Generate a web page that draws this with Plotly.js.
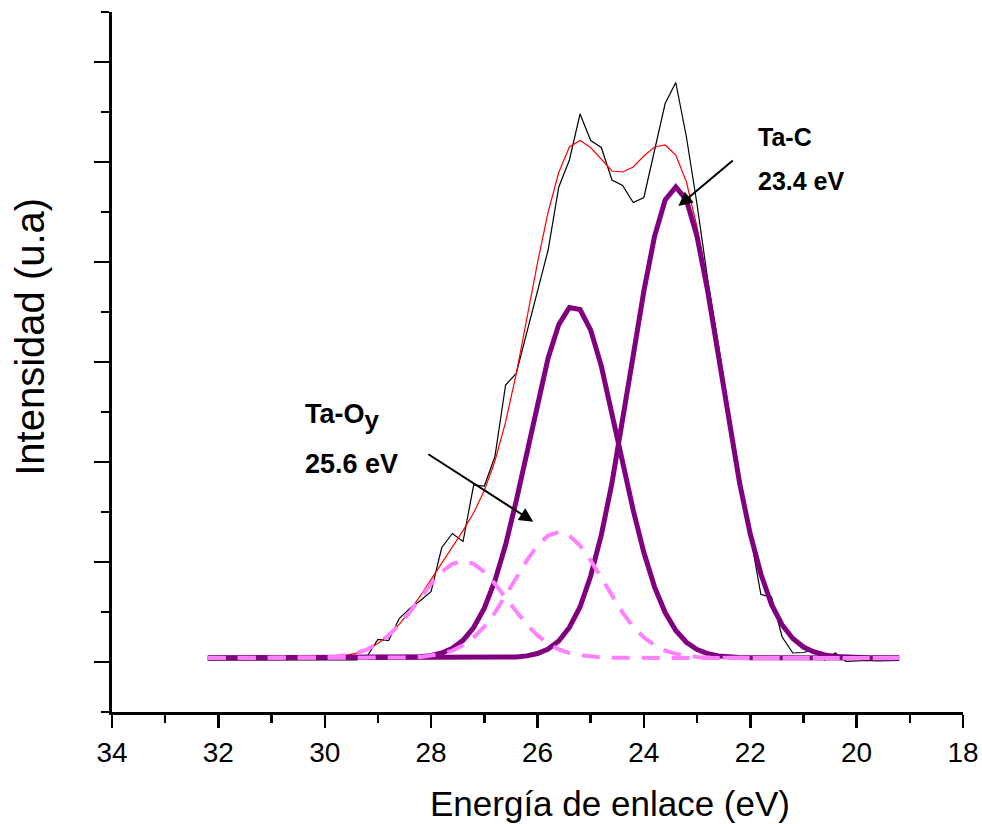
<!DOCTYPE html>
<html>
<head>
<meta charset="utf-8">
<script src="https://cdn.plot.ly/plotly-3.0.1.min.js"></script>
<style>
  html, body { margin: 0; padding: 0; background: #ffffff; }
  #chart { width: 982px; height: 824px; }
</style>
</head>
<body>
<div id="chart"></div>
<script>
// Binding energy grid (eV), 0.2 eV steps
const energy = [32.2, 32.0, 31.8, 31.6, 31.4, 31.2, 31.0, 30.8, 30.6, 30.4, 30.2, 30.0,
  29.8, 29.6, 29.4, 29.2, 29.0, 28.8, 28.6, 28.4, 28.2, 28.0,
  27.8, 27.6, 27.4, 27.2, 27.0, 26.8, 26.6, 26.4, 26.2, 26.0,
  25.8, 25.6, 25.4, 25.2, 25.0, 24.8, 24.6, 24.4, 24.2, 24.0,
  23.8, 23.6, 23.4, 23.2, 23.0, 22.8, 22.6, 22.4, 22.2, 22.0,
  21.8, 21.6, 21.4, 21.2, 21.0, 20.8, 20.6, 20.4, 20.2, 20.0,
  19.8, 19.6, 19.4, 19.2];

// Measured spectrum
const measured = [1040, 1040, 1040, 1040, 1040, 1040, 1040, 1040, 1040, 1040, 1040, 1040,
  1040, 1040, 1040, 1120, 1450, 1430, 1870, 2070, 2230, 2410,
  3290, 3570, 3410, 4540, 4520, 5110, 6540, 6770, 7580, 8440,
  9240, 10500, 11040, 11960, 11430, 11290, 10640, 10530, 10190, 10290,
  11240, 12170, 12590, 11500, 10150, 8650, 7350, 6000, 4750, 3550,
  2350, 2300, 1500, 1180, 1190, 1240, 1040, 1180, 1010, 1020,
  1030, 1020, 1030, 1030];

// Envelope of the fit
const envelope = [1080, 1080, 1080, 1080, 1080, 1080, 1080, 1080, 1081, 1082, 1086, 1093,
  1107, 1133, 1179, 1254, 1371, 1536, 1753, 2022, 2329, 2656,
  2984, 3304, 3627, 3984, 4429, 5021, 5799, 6764, 7859, 8984,
  10000, 10790, 11300, 11430, 11290, 11050, 10820, 10800, 10900, 11120,
  11300, 11340, 11140, 10600, 9700, 8520, 7180, 5820, 4590, 3560,
  2760, 2150, 1740, 1470, 1300, 1200, 1140, 1110, 1094, 1087,
  1083, 1082, 1081, 1080];

// Ta-C component (23.4 eV)
const peakTaC = [1080, 1080, 1080, 1080, 1080, 1080, 1080, 1080, 1080, 1080, 1080, 1080,
  1080, 1080, 1080, 1080, 1080, 1080, 1080, 1080, 1080, 1080,
  1080, 1080, 1080, 1080, 1081, 1083, 1088, 1100, 1122, 1170,
  1260, 1420, 1690, 2100, 2720, 3540, 4580, 5800, 7130, 8420,
  9510, 10240, 10500, 10240, 9510, 8420, 7130, 5800, 4580, 3560,
  2760, 2150, 1740, 1470, 1300, 1200, 1140, 1110, 1094, 1087,
  1083, 1082, 1081, 1080];

// Main Ta-O component (~25.3 eV)
const peakTaO = [1080, 1080, 1080, 1080, 1080, 1080, 1080, 1080, 1080, 1080, 1080, 1080,
  1080, 1080, 1080, 1080, 1081, 1082, 1084, 1090, 1103, 1129,
  1180, 1273, 1433, 1690, 2078, 2626, 3345, 4221, 5199, 6192,
  7082, 7748, 8089, 8050, 7638, 6918, 5997, 4999, 4035, 3188,
  2503, 1989, 1629, 1394, 1250, 1167, 1122, 1099, 1088, 1083,
  1081, 1080, 1080, 1080, 1080, 1080, 1080, 1080, 1080, 1080,
  1080, 1080, 1080, 1080];

// Ta-Oy component (25.6 eV), dashed
const peakTaOy = [1080, 1080, 1080, 1080, 1080, 1080, 1080, 1080, 1080, 1080, 1080, 1080,
  1080, 1080, 1080, 1080, 1081, 1082, 1084, 1090, 1101, 1123,
  1162, 1228, 1334, 1491, 1708, 1988, 2321, 2681, 3033, 3330,
  3529, 3600, 3529, 3330, 3033, 2681, 2321, 1988, 1708, 1491,
  1334, 1228, 1162, 1123, 1101, 1090, 1084, 1082, 1081, 1080,
  1080, 1080, 1080, 1080, 1080, 1080, 1080, 1080, 1080, 1080,
  1080, 1080, 1080, 1080];

// High-energy component (~27.4 eV), dashed
const peakHigh = [1080, 1080, 1080, 1080, 1080, 1080, 1080, 1080, 1081, 1082, 1086, 1093,
  1107, 1133, 1179, 1254, 1369, 1532, 1745, 2002, 2285, 2564,
  2802, 2963, 3020, 2963, 2802, 2564, 2285, 2002, 1745, 1532,
  1369, 1254, 1179, 1133, 1107, 1093, 1086, 1082, 1081, 1080,
  1080, 1080, 1080, 1080, 1080, 1080, 1080, 1080, 1080, 1080,
  1080, 1080, 1080, 1080, 1080, 1080, 1080, 1080, 1080, 1080,
  1080, 1080, 1080, 1080];

// Axis ticks
const xTickValues = [34, 32, 30, 28, 26, 24, 22, 20, 18];
const xTickLabels = ['34', '32', '30', '28', '26', '24', '22', '20', '18'];

const PURPLE = '#800080';
const PINK = '#ff80ff';
const FONT = 'Arial, "Liberation Sans", sans-serif';

const traces = [
  { x: energy, y: measured, mode: 'lines', line: { color: '#000000', width: 1.2 } },
  { x: energy, y: envelope, mode: 'lines', line: { color: '#ff0000', width: 1.2 } },
  { x: energy, y: peakTaO, mode: 'lines', line: { color: PURPLE, width: 5 } },
  { x: energy, y: peakTaC, mode: 'lines', line: { color: PURPLE, width: 5 } },
  { x: energy, y: peakHigh, mode: 'lines', line: { color: PINK, width: 4, dash: '18px,12px' } },
  { x: energy, y: peakTaOy, mode: 'lines', line: { color: PINK, width: 4, dash: '18px,12px' } }
];

const labelFont = { family: FONT, size: 25, color: '#000000', weight: 'bold' };
const labelFontLarge = { family: FONT, size: 27, color: '#000000', weight: 'bold' };

const layout = {
  width: 982,
  height: 824,
  margin: { l: 112, r: 19, t: 12, b: 112 },
  paper_bgcolor: '#ffffff',
  plot_bgcolor: '#ffffff',
  showlegend: false,
  font: { family: FONT, color: '#000000' },
  xaxis: {
    range: [34, 18],
    tickmode: 'array',
    tickvals: xTickValues,
    ticktext: xTickLabels,
    ticks: 'outside',
    ticklen: 13,
    tickwidth: 2.5,
    tickcolor: '#000000',
    tickfont: { family: FONT, size: 28, color: '#000000' },
    ticklabelstandoff: 0,
    showline: true,
    linewidth: 3,
    linecolor: '#000000',
    showgrid: false,
    zeroline: false,
    minor: { ticks: 'outside', ticklen: 8, tickwidth: 2.5, tickcolor: '#000000', dtick: 1, tick0: 0, showgrid: false }
  },
  yaxis: {
    range: [0, 14000],
    tickmode: 'linear',
    tick0: 1000,
    dtick: 2000,
    ticks: 'outside',
    ticklen: 15,
    tickwidth: 2.5,
    tickcolor: '#000000',
    showticklabels: false,
    showline: true,
    linewidth: 3,
    linecolor: '#000000',
    showgrid: false,
    zeroline: false,
    minor: { ticks: 'outside', ticklen: 8, tickwidth: 2.5, tickcolor: '#000000', dtick: 1000, tick0: 0, showgrid: false }
  },
  annotations: [
    // axis titles
    { text: 'Energía de enlace (eV)', xref: 'paper', yref: 'paper', x: 0.585, y: 0, yshift: -91,
      xanchor: 'center', yanchor: 'middle', showarrow: false, font: { family: FONT, size: 35, color: '#000000' } },
    { text: 'Intensidad (u.a)', xref: 'paper', yref: 'paper', x: 0, xshift: -82, y: 0.536,
      xanchor: 'center', yanchor: 'middle', textangle: -90, showarrow: false, font: { family: FONT, size: 40, color: '#000000' } },
    // peak labels
    { text: 'Ta-C', x: 21.9, y: 11500, xanchor: 'left', yanchor: 'middle', showarrow: false, font: labelFont },
    { text: '23.4 eV', x: 21.9, y: 10620, xanchor: 'left', yanchor: 'middle', showarrow: false, font: labelFont },
    { text: 'Ta-O<sub><span style="font-size:26px">y</span></sub>', x: 30.4, y: 5900, xanchor: 'left', yanchor: 'middle', showarrow: false, font: labelFontLarge },
    { text: '25.6 eV', x: 30.4, y: 4960, xanchor: 'left', yanchor: 'middle', showarrow: false, font: labelFontLarge },
    // arrows
    { text: '', x: 23.35, y: 10120, ax: 22.30, ay: 11054, axref: 'x', ayref: 'y',
      showarrow: true, arrowhead: 2, arrowsize: 1.4, arrowwidth: 2, arrowcolor: '#000000', standoff: 0 },
    { text: '', x: 26.08, y: 3806, ax: 28.08, ay: 5174, axref: 'x', ayref: 'y',
      showarrow: true, arrowhead: 2, arrowsize: 1.4, arrowwidth: 2, arrowcolor: '#000000', standoff: 0 }
  ]
};

Plotly.newPlot('chart', traces, layout, { displayModeBar: false, staticPlot: true });
</script>
</body>
</html>
